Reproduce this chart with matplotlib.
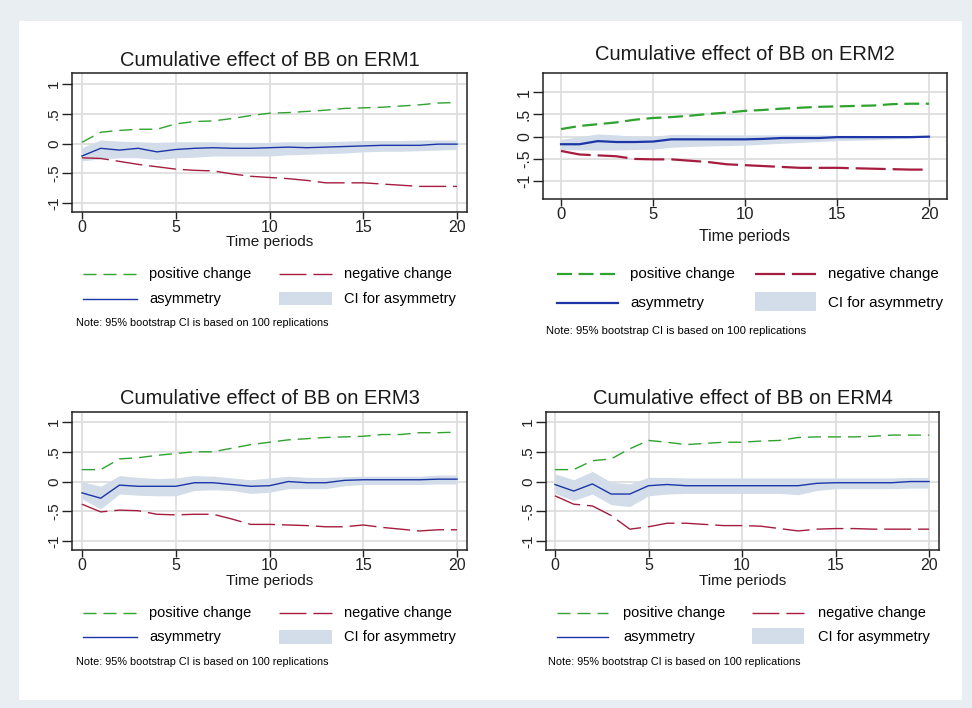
import matplotlib
matplotlib.use("Agg")
import matplotlib.pyplot as plt
from matplotlib.lines import Line2D
from matplotlib.patches import Rectangle

plt.rcParams["font.family"] = ["Liberation Sans", "DejaVu Sans"]
plt.rcParams["lines.scale_dashes"] = False

W, H = 972, 708
GREEN, RED, BLUE, BAND = "#2ea32e", "#a51c3e", "#1c36a8", "#d3dde9"

periods = list(range(21))

erm1_pos = [0.02, 0.19, 0.22, 0.24, 0.24, 0.33, 0.37, 0.38, 0.42, 0.47, 0.51,
            0.52, 0.54, 0.56, 0.59, 0.60, 0.61, 0.63, 0.65, 0.68, 0.69]
erm1_neg = [-0.24, -0.25, -0.30, -0.35, -0.39, -0.43, -0.45, -0.46, -0.51, -0.55, -0.57,
            -0.59, -0.62, -0.66, -0.66, -0.66, -0.68, -0.70, -0.72, -0.72, -0.72]
erm1_asym = [-0.21, -0.08, -0.11, -0.08, -0.14, -0.10, -0.08, -0.07, -0.08, -0.08, -0.07,
             -0.06, -0.07, -0.06, -0.05, -0.04, -0.03, -0.03, -0.03, -0.01, -0.01]
erm1_lo = [-0.29, -0.26, -0.24, -0.24, -0.27, -0.24, -0.23, -0.21, -0.21, -0.21, -0.21,
           -0.19, -0.18, -0.17, -0.16, -0.14, -0.13, -0.13, -0.12, -0.11, -0.10]
erm1_hi = [-0.07, 0.06, 0.04, 0.03, 0.02, 0.03, 0.03, 0.03, 0.02, 0.02, 0.02,
           0.03, 0.03, 0.03, 0.04, 0.05, 0.05, 0.05, 0.06, 0.06, 0.06]

erm2_pos = [0.17, 0.24, 0.28, 0.32, 0.38, 0.42, 0.44, 0.47, 0.51, 0.54, 0.58,
            0.60, 0.63, 0.65, 0.67, 0.68, 0.69, 0.70, 0.73, 0.74, 0.74]
erm2_neg = [-0.32, -0.40, -0.42, -0.44, -0.50, -0.51, -0.51, -0.54, -0.57, -0.62, -0.64,
            -0.66, -0.68, -0.70, -0.70, -0.70, -0.71, -0.72, -0.73, -0.74, -0.74]
erm2_asym = [-0.17, -0.17, -0.10, -0.12, -0.12, -0.11, -0.06, -0.06, -0.06, -0.06, -0.06,
             -0.05, -0.03, -0.03, -0.03, -0.01, -0.01, -0.01, -0.01, -0.01, 0.00]
erm2_lo = [-0.29, -0.30, -0.30, -0.30, -0.29, -0.28, -0.24, -0.22, -0.21, -0.20, -0.19,
           -0.17, -0.15, -0.13, -0.11, -0.09, -0.08, -0.07, -0.05, -0.03, -0.01]
erm2_hi = [-0.06, 0.00, 0.06, 0.04, 0.01, 0.01, 0.05, 0.05, 0.04, 0.04, 0.04,
           0.04, 0.04, 0.04, 0.04, 0.03, 0.03, 0.02, 0.02, 0.01, 0.00]

erm3_pos = [0.20, 0.20, 0.38, 0.40, 0.44, 0.47, 0.50, 0.50, 0.56, 0.62, 0.66,
            0.70, 0.72, 0.74, 0.75, 0.76, 0.79, 0.79, 0.82, 0.82, 0.83]
erm3_neg = [-0.38, -0.51, -0.48, -0.49, -0.55, -0.56, -0.55, -0.55, -0.63, -0.72, -0.72,
            -0.73, -0.74, -0.76, -0.76, -0.73, -0.77, -0.80, -0.83, -0.81, -0.81]
erm3_asym = [-0.19, -0.28, -0.06, -0.08, -0.08, -0.08, -0.02, -0.02, -0.05, -0.08, -0.07,
             0.00, -0.02, -0.02, 0.02, 0.03, 0.03, 0.03, 0.03, 0.04, 0.04]
erm3_lo = [-0.29, -0.46, -0.21, -0.23, -0.24, -0.24, -0.15, -0.14, -0.15, -0.20, -0.18,
           -0.12, -0.12, -0.12, -0.07, -0.05, -0.05, -0.05, -0.05, -0.04, -0.04]
erm3_hi = [0.00, -0.08, 0.10, 0.07, 0.05, 0.06, 0.10, 0.09, 0.06, 0.03, 0.06,
           0.09, 0.07, 0.07, 0.08, 0.09, 0.09, 0.09, 0.09, 0.11, 0.11]

erm4_pos = [0.20, 0.20, 0.35, 0.38, 0.55, 0.69, 0.66, 0.62, 0.64, 0.66, 0.66,
            0.68, 0.69, 0.74, 0.75, 0.75, 0.75, 0.76, 0.78, 0.78, 0.78]
erm4_neg = [-0.24, -0.38, -0.41, -0.57, -0.80, -0.76, -0.70, -0.70, -0.72, -0.74, -0.74,
            -0.75, -0.79, -0.83, -0.80, -0.79, -0.79, -0.80, -0.80, -0.80, -0.80]
erm4_asym = [-0.05, -0.16, -0.04, -0.21, -0.21, -0.07, -0.05, -0.07, -0.07, -0.07, -0.07,
             -0.07, -0.07, -0.07, -0.03, -0.02, -0.02, -0.02, -0.02, 0.00, 0.00]
erm4_lo = [-0.20, -0.32, -0.21, -0.39, -0.42, -0.24, -0.21, -0.20, -0.20, -0.20, -0.20,
           -0.20, -0.20, -0.22, -0.15, -0.12, -0.12, -0.12, -0.12, -0.11, -0.11]
erm4_hi = [0.13, 0.03, 0.17, -0.01, -0.04, 0.07, 0.07, 0.06, 0.06, 0.06, 0.06,
           0.06, 0.06, 0.06, 0.06, 0.06, 0.06, 0.06, 0.06, 0.07, 0.07]

y_ticks = [-1, -0.5, 0, 0.5, 1]
y_labels = ["-1", "-.5", "0", ".5", "1"]
x_ticks = [0, 5, 10, 15, 20]


def fx(x):
    return x / W


def fy(y):
    return 1 - y / H


fig = plt.figure(figsize=(W / 100, H / 100), dpi=100, facecolor="#e8eef2")
fig.add_artist(Rectangle((fx(19), fy(700)), fx(962) - fx(19), fy(21) - fy(700),
                         transform=fig.transFigure, facecolor="white", edgecolor="none",
                         zorder=-10))

thin = dict(lw=1.0, gdash=(9.4, 5), rdash=(19.4, 5))
thick = dict(lw=1.6, gdash=(10.8, 4.7), rdash=(21.6, 5))

# layout per panel (pixels, y from top)
panels = [
    dict(name="ERM1", pos=erm1_pos, neg=erm1_neg, asym=erm1_asym, lo=erm1_lo, hi=erm1_hi,
         box=(72, 73, 467, 212), xlim=(-0.53, 20.53), ylim=(-1.15, 1.185), st=thin,
         title_y=60, xlab_y=242, rows=(274, 299), h1=(83, 137, 149), h2=(279, 332, 344),
         rect=(292, 305), note=(76, 323), fs=1.0),
    dict(name="ERM2", pos=erm2_pos, neg=erm2_neg, asym=erm2_asym, lo=erm2_lo, hi=erm2_hi,
         box=(543, 73, 947, 199), xlim=(-0.98, 20.98), ylim=(-1.40, 1.43), st=thick,
         title_y=55, xlab_y=237, rows=(274, 303), h1=(557, 618, 630), h2=(755, 816, 828),
         rect=(292, 311), note=(546, 331), fs=1.04),
    dict(name="ERM3", pos=erm3_pos, neg=erm3_neg, asym=erm3_asym, lo=erm3_lo, hi=erm3_hi,
         box=(72, 412, 467, 550), xlim=(-0.53, 20.53), ylim=(-1.15, 1.168), st=thin,
         title_y=398, xlab_y=581, rows=(613, 637), h1=(83, 137, 149), h2=(279, 332, 344),
         rect=(630, 644), note=(76, 662), fs=1.0),
    dict(name="ERM4", pos=erm4_pos, neg=erm4_neg, asym=erm4_asym, lo=erm4_lo, hi=erm4_hi,
         box=(546, 412, 939, 550), xlim=(-0.48, 20.53), ylim=(-1.15, 1.168), st=thin,
         title_y=398, xlab_y=581, rows=(613, 637), h1=(557, 608, 623), h2=(752, 804, 818),
         rect=(628, 644), note=(548, 662), fs=1.0),
]

for p in panels:
    l, t, r, b = p["box"]
    st = p["st"]
    lw = st["lw"]
    ax = fig.add_axes([fx(l), fy(b), fx(r) - fx(l), fy(t) - fy(b)])
    ax.fill_between(periods, p["lo"], p["hi"], color=BAND, lw=0, zorder=2)
    ax.plot(periods, p["pos"], color=GREEN, lw=lw, dashes=st["gdash"], zorder=3)
    ax.plot(periods, p["neg"], color=RED, lw=lw, dashes=st["rdash"], zorder=3)
    ax.plot(periods, p["asym"], color=BLUE, lw=lw, zorder=4)
    ax.set_xlim(*p["xlim"])
    ax.set_ylim(*p["ylim"])
    ax.set_xticks(x_ticks)
    ax.set_yticks(y_ticks)
    ax.set_yticklabels(y_labels, rotation=90, va="center")
    ax.grid(True, color="#dedede", lw=1.3)
    ax.set_axisbelow(True)
    for s in ax.spines.values():
        s.set_linewidth(1.1)
        s.set_color("#222222")
    ax.tick_params(axis="y", length=7, width=1.0, pad=1, labelsize=11 * p["fs"], colors="#222222")
    ax.tick_params(axis="x", length=5, width=1.0, pad=1, labelsize=11.5 * p["fs"], colors="#222222")

    cx = (l + r) / 2
    fig.text(fx(cx), fy(p["title_y"]), f"Cumulative effect of BB on {p['name']}",
             ha="center", va="center", fontsize=14.5, color="#1a1a1a")
    fig.text(fx(cx), fy(p["xlab_y"]), "Time periods", ha="center", va="center",
             fontsize=11 * p["fs"], color="#1a1a1a")

    # legend
    r1, r2 = p["rows"]
    x0, x1, xt = p["h1"]
    fig.add_artist(Line2D([fx(x0), fx(x1)], [fy(r1), fy(r1)], transform=fig.transFigure,
                          color=GREEN, lw=lw, dashes=st["gdash"]))
    fig.text(fx(xt), fy(r1), "positive change", ha="left", va="center", fontsize=10.5 * p["fs"])
    fig.add_artist(Line2D([fx(x0), fx(x1)], [fy(r2), fy(r2)], transform=fig.transFigure,
                          color=BLUE, lw=lw))
    fig.text(fx(xt), fy(r2), "asymmetry", ha="left", va="center", fontsize=10.5 * p["fs"])
    x0, x1, xt = p["h2"]
    fig.add_artist(Line2D([fx(x0), fx(x1)], [fy(r1), fy(r1)], transform=fig.transFigure,
                          color=RED, lw=lw, dashes=st["rdash"]))
    fig.text(fx(xt), fy(r1), "negative change", ha="left", va="center", fontsize=10.5 * p["fs"])
    ry0, ry1 = p["rect"]
    fig.add_artist(Rectangle((fx(x0), fy(ry1)), fx(x1) - fx(x0), fy(ry0) - fy(ry1),
                             transform=fig.transFigure, facecolor=BAND, edgecolor="none"))
    fig.text(fx(xt), fy(r2), "CI for asymmetry", ha="left", va="center", fontsize=10.5 * p["fs"])
    nx, ny = p["note"]
    fig.text(fx(nx), fy(ny), "Note: 95% bootstrap CI is based on 100 replications",
             ha="left", va="center", fontsize=7.8 * p["fs"])

fig.savefig("out.png", dpi=100, facecolor=fig.get_facecolor())
